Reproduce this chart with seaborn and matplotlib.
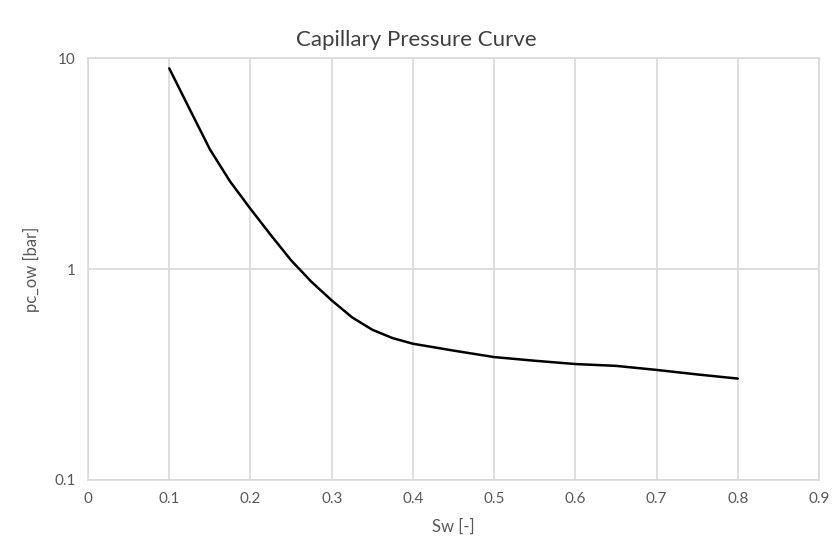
import matplotlib
matplotlib.use("Agg")
import matplotlib.pyplot as plt
import matplotlib.ticker as mticker
import seaborn as sns
import pandas as pd

sw = [0.10, 0.125, 0.15, 0.175, 0.20, 0.225, 0.25, 0.275, 0.30, 0.325, 0.35, 0.375, 0.40,
      0.45, 0.50, 0.55, 0.60, 0.65, 0.70, 0.75, 0.80]
pc = [8.96, 5.75, 3.7, 2.6, 1.93, 1.45, 1.10, 0.87, 0.71, 0.59, 0.515, 0.47, 0.442,
      0.41, 0.382, 0.367, 0.354, 0.347, 0.332, 0.316, 0.302]

x_ticks = [0, 0.1, 0.2, 0.3, 0.4, 0.5, 0.6, 0.7, 0.8, 0.9]
x_labels = ["0", "0.1", "0.2", "0.3", "0.4", "0.5", "0.6", "0.7", "0.8", "0.9"]
y_ticks = [0.1, 1, 10]
y_labels = ["0.1", "1", "10"]

df = pd.DataFrame({"Sw": sw, "pc": pc})

sns.set_style("whitegrid")
plt.rcParams["font.family"] = ["Lato", "DejaVu Sans"]

fig = plt.figure(figsize=(8.32, 5.47), dpi=100)
ax = fig.add_axes([0.1058, 0.1230, 0.8786, 0.7704])
sns.lineplot(data=df, x="Sw", y="pc", ax=ax, color="black", linewidth=1.8)
ax.set_yscale("log")
ax.set_xlim(0, 0.9)
ax.set_ylim(0.1, 10)
ax.set_xticks(x_ticks)
ax.set_xticklabels(x_labels)
ax.set_yticks(y_ticks)
ax.set_yticklabels(y_labels)
ax.yaxis.set_minor_locator(mticker.NullLocator())
ax.grid(True, color="#d9d9d9", linewidth=1.2)
for s in ax.spines.values():
    s.set_color("#d9d9d9")
    s.set_linewidth(1.2)
ax.tick_params(axis="both", length=0, labelsize=11, labelcolor="#595959", pad=9)
ax.set_xlabel("Sw [-]", fontsize=12, color="#595959", labelpad=9)
ax.set_ylabel("pc_ow [bar]", fontsize=12, color="#595959", labelpad=10)
fig.suptitle("Capillary Pressure Curve", fontsize=16, color="#404040", y=0.945)
fig.savefig("out.png", dpi=100)
